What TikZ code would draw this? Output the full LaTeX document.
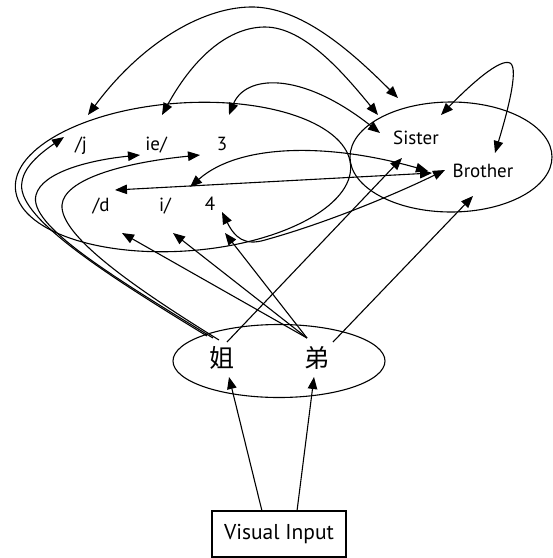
\documentclass[tikz,border=0pt]{standalone}
\usepackage{fontspec}
\setmainfont{PT Sans}
\newfontfamily\cjk{Noto Sans CJK SC}
\usetikzlibrary{arrows.meta,shapes.geometric}
\begin{document}
\begin{tikzpicture}[x=1pt,y=-1pt,
  link/.style={line width=1.1pt, draw=black},
  arr/.style={-{Triangle[length=12pt,width=9.5pt]}},
  biarr/.style={{Triangle[length=12pt,width=9.5pt]}-{Triangle[length=12pt,width=9.5pt]}},
  lbl/.style={font=\fontsize{19}{21}\selectfont, inner sep=0pt, anchor=base},
  hanzi/.style={font=\cjk\fontsize{25}{25}\selectfont, inner sep=0pt},
  grp/.style={draw, line width=1.1pt, ellipse, inner sep=0pt}]
\useasboundingbox (0,0) rectangle (553,558);

% group ellipses
\node[grp, minimum width=336pt, minimum height=148pt, rotate=4] (phon) at (183,177) {};
\node[grp, minimum width=202pt, minimum height=110pt] (sem) at (451,157) {};
\node[grp, minimum width=212pt, minimum height=73pt] (orth) at (279,361) {};
\node[draw, line width=1.1pt, minimum width=134pt, minimum height=46pt, inner sep=0pt,
      font=\fontsize{21.5}{23}\selectfont] (vis) at (279,534) {Visual Input};

% labels
\node[lbl] (j) at (81,150) {/j};
\node[lbl] (ie) at (156,150) {ie/};
\node[lbl] (three) at (222,150) {3};
\node[lbl] (d) at (101,211) {/d};
\node[lbl] (i) at (165,211) {i/};
\node[lbl] (four) at (210,210) {4};
\node[lbl] (sister) at (416,144) {Sister};
\node[lbl] (brother) at (483,177) {Brother};
\node[hanzi] (jie) at (222,358) {姐};
\node[hanzi] (di) at (317,358) {弟};

% connector end points
\coordinate (jieA) at (207,336);
\coordinate (jieB) at (213,338);
\coordinate (jieC) at (219,340);
\coordinate (jieD) at (227,342);
\coordinate (diA) at (307,338);
\coordinate (diB) at (333,342);
\coordinate (jIn) at (64,137);
\coordinate (ieIn) at (140,155);
\coordinate (thIn) at (200,155);
\coordinate (jTop) at (88,115);
\coordinate (ieTop) at (162,115);
\coordinate (thTop) at (229,115);
\coordinate (sisA) at (398,98);
\coordinate (sisB) at (378,115);
\coordinate (sisC) at (380,133);
\coordinate (sisD) at (441,115);
\coordinate (sisE) at (402,158);
\coordinate (broTop) at (495,153);
\coordinate (broA) at (432,173);
\coordinate (broB) at (428,171);
\coordinate (broC) at (445,170);
\coordinate (broD) at (473,196);
\coordinate (dIn) at (115,190);
\coordinate (iIn) at (190,187);
\coordinate (fourIn) at (222,212);
\coordinate (dLow) at (122,233);
\coordinate (iLow) at (173,233);
\coordinate (fourLow) at (225,233);
\coordinate (visA) at (262,511);
\coordinate (visB) at (297,511);
\coordinate (jieLow) at (229,377);
\coordinate (diLow) at (314,377);

% curves from 姐 round the left
\draw[link,arr] (jieA) .. controls (97,269) and (15,215) .. (22,182) .. controls (24,165) and (45,150) .. (jIn);
\draw[link,arr] (jieB) .. controls (110,275) and (28,225) .. (36,195) .. controls (42,172) and (90,160) .. (ieIn);
\draw[link,arr] (jieC) .. controls (130,285) and (60,235) .. (62,205) .. controls (64,180) and (120,163) .. (thIn);

% top curves to Sister
\draw[link,biarr] (jTop) .. controls (140,45) and (200,8) .. (250,7) .. controls (300,6) and (350,50) .. (sisA);
\draw[link,biarr] (ieTop) .. controls (195,55) and (230,27) .. (265,27) .. controls (305,27) and (345,75) .. (sisB);
\draw[link,biarr] (thTop) .. controls (245,75) and (300,70) .. (sisC);
\draw[link,biarr] (sisD) .. controls (470,85) and (500,58) .. (510,63) .. controls (520,68) and (505,120) .. (broTop);

% middle connectors to Brother
\draw[link,biarr] (dIn) -- (broA);
\draw[link,biarr] (iIn) .. controls (240,143) and (330,143) .. (broB);
\draw[link,biarr] (fourIn) .. controls (235,238) and (245,246) .. (265,240) .. controls (330,222) and (400,192) .. (broC);

% from the characters
\draw[link,arr] (jieD) -- (sisE);
\draw[link,arr] (diB) -- (broD);
\draw[link,arr] (diA) -- (dLow);
\draw[link,arr] (diA) -- (iLow);
\draw[link,arr] (diA) -- (fourLow);

% from visual input
\draw[link,arr] (visA) -- (jieLow);
\draw[link,arr] (visB) -- (diLow);
\end{tikzpicture}
\end{document}
